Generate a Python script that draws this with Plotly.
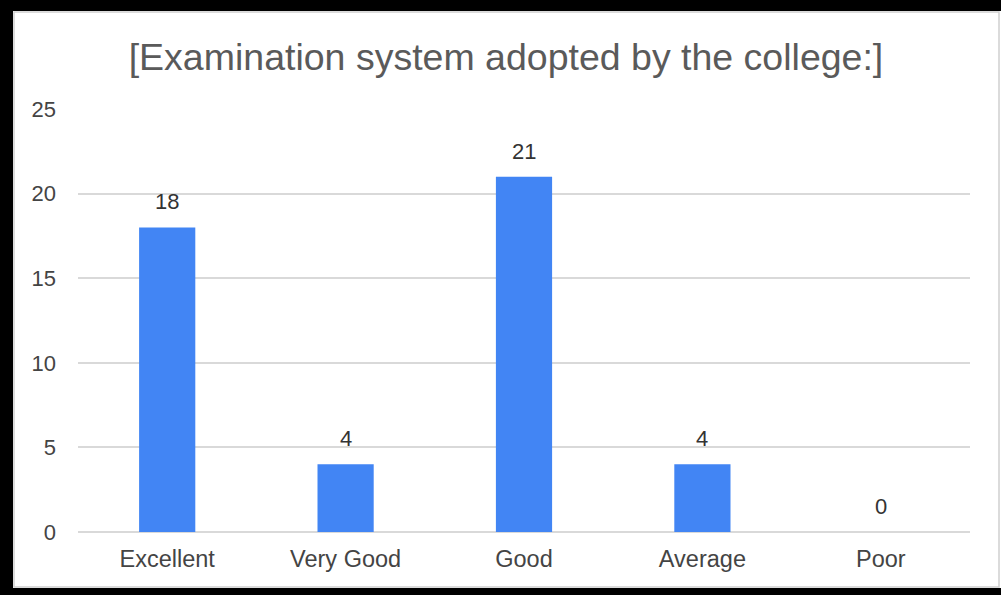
import plotly.graph_objects as go

categories = ["Excellent", "Very Good", "Good", "Average", "Poor"]
values = [18, 4, 21, 4, 0]
title_text = "[Examination system adopted by the college:]"
y_ticks = [0, 5, 10, 15, 20, 25]

W, H = 1001, 595
L, R, T, B = 78, 31, 109, 63
PW = W - L - R
PH = H - T - B
FONT = "Liberation Sans, Arial"


def xp(px):
    return (px - L) / PW


def yp(py):
    return (H - B - py) / PH


fig = go.Figure(
    go.Bar(
        x=categories,
        y=values,
        marker=dict(color="#4285F4", line=dict(width=0)),
        hoverinfo="skip",
    )
)

annotations = [
    dict(x=c, y=v, xref="x", yref="y", text=str(v), showarrow=False,
         yanchor="bottom", yshift=11,
         font=dict(family=FONT, size=22, color="#333333"))
    for c, v in zip(categories, values)
]

shapes = [
    dict(type="rect", xref="paper", yref="paper",
         x0=xp(14), x1=xp(999), y0=yp(587), y1=yp(12),
         line=dict(color="#cfcfcf", width=1.5), fillcolor="rgba(0,0,0,0)", layer="below"),
    dict(type="rect", xref="paper", yref="paper",
         x0=xp(0), x1=xp(13), y0=yp(H), y1=yp(0),
         line=dict(width=0), fillcolor="black"),
    dict(type="rect", xref="paper", yref="paper",
         x0=xp(0), x1=xp(W), y0=yp(11), y1=yp(0),
         line=dict(width=0), fillcolor="black"),
    dict(type="rect", xref="paper", yref="paper",
         x0=xp(0), x1=xp(W), y0=yp(H), y1=yp(588),
         line=dict(width=0), fillcolor="black"),
]

fig.update_layout(
    width=W,
    height=H,
    margin=dict(l=L, r=R, t=T, b=B, pad=0),
    paper_bgcolor="white",
    plot_bgcolor="white",
    bargap=0.685,
    showlegend=False,
    shapes=shapes,
    annotations=annotations,
    font=dict(family=FONT, color="#444444"),
    title=dict(
        text=title_text,
        xref="container", x=506 / W, xanchor="center",
        yref="container", y=1 - 57 / H, yanchor="middle",
        font=dict(family=FONT, size=37.5, color="#5a5a5a"),
    ),
    xaxis=dict(
        showgrid=False,
        showline=False,
        ticks="",
        tickfont=dict(size=23.5, color="#444444"),
        ticklabelstandoff=10,
    ),
    yaxis=dict(
        range=[0, 25],
        tickvals=y_ticks,
        showgrid=True,
        gridcolor="#d9d9d9",
        gridwidth=1.5,
        zeroline=True,
        zerolinecolor="#d9d9d9",
        zerolinewidth=1.5,
        showline=False,
        ticks="",
        tickfont=dict(size=22, color="#444444"),
        ticklabelstandoff=21,
    ),
)

fig.write_html(
    "out.html",
    config={"displayModeBar": False},
    post_script="document.body.style.margin='0';document.body.style.overflow='hidden';",
)
